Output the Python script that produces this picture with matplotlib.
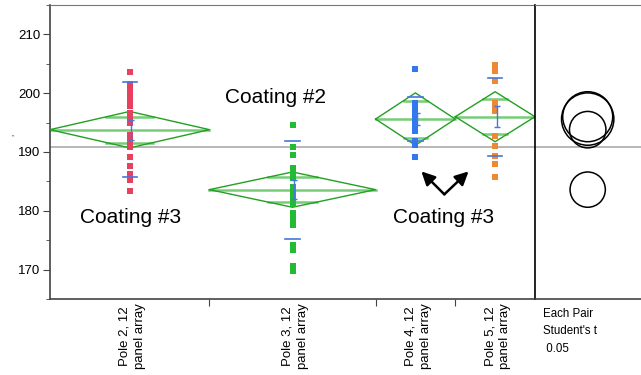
import numpy as np
import matplotlib
matplotlib.use('Agg')
import matplotlib.pyplot as plt
from matplotlib.patches import Ellipse

plt.rcParams['font.family'] = ['Liberation Sans', 'DejaVu Sans']

# data
groups = ['Pole 2, 12\npanel array', 'Pole 3, 12\npanel array',
          'Pole 4, 12\npanel array', 'Pole 5, 12\npanel array']
colors = ['#E8405F', '#22BB33', '#3377EE', '#EE8833']

pole2 = [203.6, 201.5, 201.1, 200.4, 200.0, 199.8, 198.9, 198.6, 197.8, 196.6,
         196.2, 195.8, 194.9, 192.9, 192.4, 191.6, 191.2, 190.8, 189.1, 187.6,
         186.2, 185.7, 185.2, 183.3]
pole3 = [194.6, 190.8, 189.5, 187.2, 186.8, 186.4, 185.9, 185.5, 184.1, 183.4,
         183.1, 182.8, 182.1, 181.7, 181.2, 179.7, 179.2, 178.8, 178.1, 177.6,
         174.2, 173.8, 173.4, 170.6, 169.7]
pole4 = [204.1, 198.3, 197.7, 197.2, 196.6, 196.0, 195.5, 194.6, 193.5, 191.8,
         191.2, 189.2]
pole5 = [204.8, 203.7, 202.1, 198.3, 198.0, 197.7, 197.0, 192.8, 191.0, 189.4,
         188.0, 185.7]
values = [pole2, pole3, pole4, pole5]

means = [193.8, 183.6, 195.6, 196.0]
ci95 = [3.1, 3.0, 4.45, 4.25]
stdev = [8.1, 8.35, 3.75, 6.65]
stderr = [1.7, 1.65, 1.05, 1.75]
grand_mean = 190.9

fig = plt.figure(figsize=(6.41, 3.75), dpi=100)
ax = fig.add_axes([50/641, 76/375, 485/641, 294/375])
rax = fig.add_axes([535/641, 76/375, 120/641, 294/375])

ylo, yhi = 165, 215
counts = [len(v) for v in values]
edges = np.concatenate([[0], np.cumsum(counts)])
centers = (edges[:-1] + edges[1:]) / 2

ax.axhline(grand_mean, color='#AAAAAA', lw=1.2, zorder=1)

for i in range(len(groups)):
    l, r, c = edges[i], edges[i + 1], centers[i]
    m, ci = means[i], ci95[i]
    w = r - l
    # means diamond
    ax.plot([l, c, r, c, l], [m, m + ci, m, m - ci, m], color='#22A022', lw=1.0, zorder=3)
    ax.plot([l, r], [m, m], color='#77CC77', lw=1.8, zorder=2)
    ov = ci / np.sqrt(2)
    hw = w / 2 * (1 - 1 / np.sqrt(2))
    for s in (1, -1):
        ax.plot([c - hw, c + hw], [m + s * ov, m + s * ov], color='#77CC77', lw=1.8, zorder=2)
    # points
    ax.plot([c] * len(values[i]), values[i], 's', color=colors[i], ms=3.8, mew=0, zorder=4)
    # std dev lines + std err bar
    dx = w * 0.045 if w > 20 else w * 0.09
    for s in (1, -1):
        ax.plot([c - dx, c + dx], [m + s * stdev[i]] * 2, color='#4477DD', lw=1.2, zorder=5)
    ax.errorbar(c + dx * 0.2, m, yerr=stderr[i], color='#4477DD', lw=1.0, capsize=2.5, zorder=5)

ax.set_xlim(edges[0], edges[-1])
ax.set_ylim(ylo, yhi)
ax.set_yticks([170, 180, 190, 200, 210])
ax.set_yticks(np.arange(ylo, yhi + 1, 5), minor=True)
ax.tick_params(axis='y', which='major', length=5, labelsize=9.5, color='#444444', pad=2)
ax.tick_params(axis='y', which='minor', length=3, color='#444444')
ax.set_xticks(edges[1:-1])
ax.set_xticklabels([])
ax.tick_params(axis='x', length=5, color='#444444')
for sp in ['left', 'bottom']:
    ax.spines[sp].set_color('#444444')
    ax.spines[sp].set_linewidth(1.2)
ax.spines['top'].set_color('#777777')
ax.spines['right'].set_visible(False)

for i, g in enumerate(groups):
    ax.text(centers[i] + 0.4, -0.013, g, transform=ax.get_xaxis_transform(),
            rotation=90, ha='center', va='top', fontsize=9.5, linespacing=1.35)

ax.text(12.2, 178.9, 'Coating #3', fontsize=15, ha='center', va='center')
ax.text(33.9, 199.2, 'Coating #2', fontsize=15, ha='center', va='center')
ax.text(59.2, 178.9, 'Coating #3', fontsize=15, ha='center', va='center')
for tip in [(55.9, 186.7), (63.0, 186.7)]:
    ax.annotate('', xy=tip, xytext=(59.35, 182.8),
                arrowprops=dict(arrowstyle='-|>', lw=1.8, color='black', mutation_scale=20,
                                shrinkA=0, shrinkB=0))

fig.text(12/641, 1 - 134/375, '\u2019', fontsize=7, rotation=90, color='#333333')

# comparison circles
rax.set_xlim(0, 120)
rax.set_ylim(ylo, yhi)
px_per_unit = 294 / (yhi - ylo)
rax.axhline(grand_mean, color='#AAAAAA', lw=1.2, zorder=1)
for m, ci in zip(means, ci95):
    rax.add_patch(Ellipse((52.7, m), 2 * ci * px_per_unit, 2 * ci, fill=False,
                          ec='black', lw=1.1, zorder=3))
rax.set_xticks([])
rax.set_yticks([])
rax.spines['right'].set_visible(False)
rax.spines['left'].set_color('black')
rax.spines['left'].set_linewidth(1.2)
rax.spines['bottom'].set_color('#444444')
rax.spines['bottom'].set_linewidth(1.2)
rax.spines['top'].set_color('#777777')
rax.text(8 / 120, -0.03, "Each Pair\nStudent's t\n 0.05", transform=rax.transAxes,
         ha='left', va='top', fontsize=8.3, linespacing=1.6)

fig.savefig('out.png', dpi=100)
